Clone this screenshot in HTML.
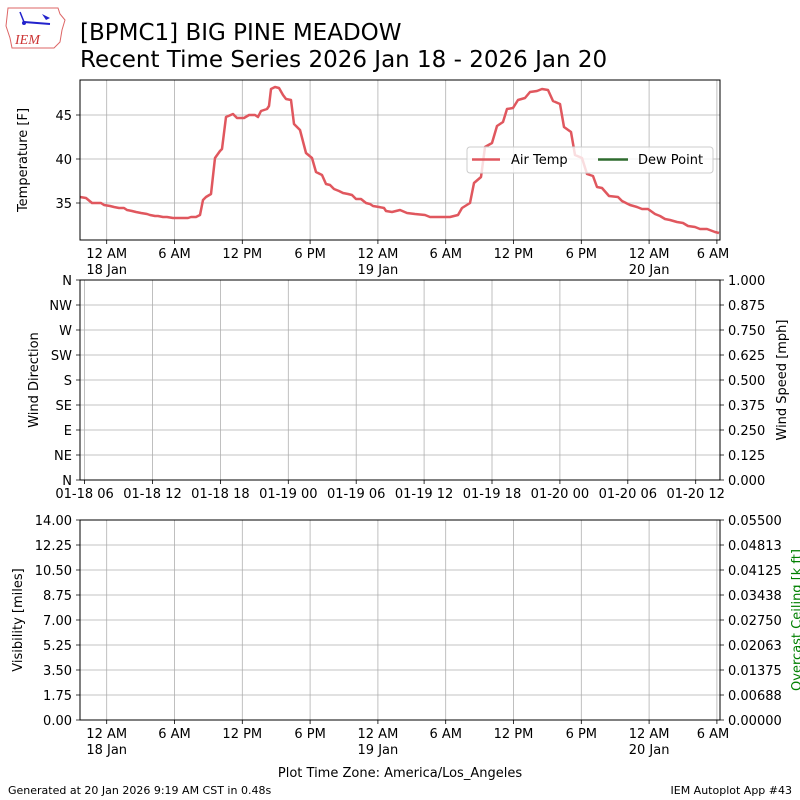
<!DOCTYPE html>
<html><head><meta charset="utf-8"><style>
html,body{margin:0;padding:0;background:#fff}
svg{display:block;font-family:"DejaVu Sans","Liberation Sans",sans-serif}
</style></head><body>
<svg width="800" height="800" viewBox="0 0 800 800" xmlns="http://www.w3.org/2000/svg">
<rect width="800" height="800" fill="#fff"/>
<g>
<path d="M8 8 L58 8 L60 14 L65 20 L62 30 L60 42 L54 48 L12 48 L10 38 L6 26 Z" fill="#fff" stroke="#d66" stroke-width="1"/>
<line x1="24" y1="22" x2="50" y2="24" stroke="#22c" stroke-width="2"/>
<line x1="20" y1="12" x2="24" y2="22" stroke="#22c" stroke-width="1.5"/>
<path d="M42 14 L50 18 L46 20 Z" fill="#22c"/>
<circle cx="24" cy="23" r="2" fill="#22c"/>
<text x="15" y="44" font-family="Liberation Serif,serif" font-style="italic" font-size="14" fill="#c33">IEM</text>
</g>
<text x="80" y="40" font-size="23" fill="#000">[BPMC1] BIG PINE MEADOW</text>
<text x="80" y="67" font-size="23" fill="#000">Recent Time Series 2026 Jan 18 - 2026 Jan 20</text>

<g stroke="#b0b0b0" stroke-width="0.8" fill="none">
<path d="M106.7 80V240M174.5 80V240M242.3 80V240M310.1 80V240M377.9 80V240M445.7 80V240M513.5 80V240M581.3 80V240M649.1 80V240M716.9 80V240"/>
<path d="M80 115H720M80 159H720M80 203H720"/>
<path d="M84.6 280V480M152.5 280V480M220.4 280V480M288.3 280V480M356.2 280V480M424.1 280V480M492 280V480M559.9 280V480M627.8 280V480M695.7 280V480"/>
<path d="M80 305H720M80 330H720M80 355H720M80 380H720M80 405H720M80 430H720M80 455H720"/>
<path d="M106.7 520V720M174.5 520V720M242.3 520V720M310.1 520V720M377.9 520V720M445.7 520V720M513.5 520V720M581.3 520V720M649.1 520V720M716.9 520V720"/>
<path d="M80 545H720M80 570H720M80 595H720M80 620H720M80 645H720M80 670H720M80 695H720"/>
</g>

<polyline fill="none" stroke="#e0575e" stroke-width="2.5" stroke-linejoin="round" points="80,197 86,198 92,203 101,203 104,205 110,206 114,207 119,208 124,208 127,210 132,211 136,212 141,213 147,214 150,215 155,216 158,216 163,217 167,217 173,218 188,218 191,217 196,217 200,215 203,200 206,197 211,194 215,158 220,151 222,149 226,117 233,114 237,118 244,118 249,115 255,115 258,117 261,111 267,109 269,106 271,89 275,87 279,88 283,95 286,99 291,100 294,124 300,130 306,153 312,158 316,172 322,175 326,184 330,185 334,189 339,191 343,193 348,194 352,195 356,199 361,199 366,203 370,204 373,206 379,207 384,208 386,211 392,212 400,210 407,213 415,214 425,215 430,217 450,217 458,215 462,208 470,203 474,183 481,177 485,147 492,143 497,126 503,122 507,109 513,108 518,100 525,98 530,92 537,91 542,89 548,90 553,101 560,104 564,127 571,132 575,155 582,158 587,174 593,176 597,187 602,188 609,196 618,197 622,201 630,205 637,207 642,209 648,209 655,214 660,216 665,219 670,220 677,222 683,223 688,226 695,227 700,229 707,229 715,232 719,233"/>

<rect x="467" y="147" width="246" height="26" rx="3" fill="#fff" fill-opacity="0.8" stroke="#ccc"/>
<line x1="472" y1="159.5" x2="500" y2="159.5" stroke="#e0575e" stroke-width="2.5"/>
<text x="511" y="164" font-size="13">Air Temp</text>
<line x1="598" y1="159.5" x2="628" y2="159.5" stroke="#2f6b2f" stroke-width="2.5"/>
<text x="638" y="164" font-size="13">Dew Point</text>

<g fill="none" stroke="#000" stroke-width="1">
<rect x="80" y="80" width="640" height="160"/>
<rect x="80" y="280" width="640" height="200"/>
<rect x="80" y="520" width="640" height="200"/>
</g>

<g stroke="#000" stroke-width="0.8">
<path d="M106.7 240v4M174.5 240v4M242.3 240v4M310.1 240v4M377.9 240v4M445.7 240v4M513.5 240v4M581.3 240v4M649.1 240v4M716.9 240v4"/>
<path d="M80 115h-4M80 159h-4M80 203h-4"/>
<path d="M84.6 480v4M152.5 480v4M220.4 480v4M288.3 480v4M356.2 480v4M424.1 480v4M492 480v4M559.9 480v4M627.8 480v4M695.7 480v4"/>
<path d="M80 280h-4M80 305h-4M80 330h-4M80 355h-4M80 380h-4M80 405h-4M80 430h-4M80 455h-4M80 480h-4"/>
<path d="M720 280h4M720 305h4M720 330h4M720 355h4M720 380h4M720 405h4M720 430h4M720 455h4M720 480h4"/>
<path d="M106.7 720v4M174.5 720v4M242.3 720v4M310.1 720v4M377.9 720v4M445.7 720v4M513.5 720v4M581.3 720v4M649.1 720v4M716.9 720v4"/>
<path d="M80 520h-4M80 545h-4M80 570h-4M80 595h-4M80 620h-4M80 645h-4M80 670h-4M80 695h-4M80 720h-4"/>
<path d="M720 520h4M720 545h4M720 570h4M720 595h4M720 620h4M720 645h4M720 670h4M720 695h4M720 720h4"/>
</g>

<g font-size="13" fill="#000">
<g text-anchor="end">
<text x="72" y="120">45</text><text x="72" y="164">40</text><text x="72" y="208">35</text>
<text x="72" y="285">N</text><text x="72" y="310">NW</text><text x="72" y="335">W</text><text x="72" y="360">SW</text><text x="72" y="385">S</text><text x="72" y="410">SE</text><text x="72" y="435">E</text><text x="72" y="460">NE</text><text x="72" y="485">N</text>
<text x="72" y="525">14.00</text><text x="72" y="550">12.25</text><text x="72" y="575">10.50</text><text x="72" y="600">8.75</text><text x="72" y="625">7.00</text><text x="72" y="650">5.25</text><text x="72" y="675">3.50</text><text x="72" y="700">1.75</text><text x="72" y="725">0.00</text>
</g>
<g text-anchor="start">
<text x="728" y="285">1.000</text><text x="728" y="310">0.875</text><text x="728" y="335">0.750</text><text x="728" y="360">0.625</text><text x="728" y="385">0.500</text><text x="728" y="410">0.375</text><text x="728" y="435">0.250</text><text x="728" y="460">0.125</text><text x="728" y="485">0.000</text>
<text x="728" y="525">0.05500</text><text x="728" y="550">0.04813</text><text x="728" y="575">0.04125</text><text x="728" y="600">0.03438</text><text x="728" y="625">0.02750</text><text x="728" y="650">0.02063</text><text x="728" y="675">0.01375</text><text x="728" y="700">0.00688</text><text x="728" y="725">0.00000</text>
</g>
<g text-anchor="middle">
<text x="106.7" y="258">12 AM</text><text x="106.7" y="274">18 Jan</text>
<text x="174.5" y="258">6 AM</text><text x="242.3" y="258">12 PM</text><text x="310.1" y="258">6 PM</text>
<text x="377.9" y="258">12 AM</text><text x="377.9" y="274">19 Jan</text>
<text x="445.7" y="258">6 AM</text><text x="513.5" y="258">12 PM</text><text x="581.3" y="258">6 PM</text>
<text x="649.1" y="258">12 AM</text><text x="649.1" y="274">20 Jan</text>
<text x="713" y="258">6 AM</text>

<text x="106.7" y="738">12 AM</text><text x="106.7" y="754">18 Jan</text>
<text x="174.5" y="738">6 AM</text><text x="242.3" y="738">12 PM</text><text x="310.1" y="738">6 PM</text>
<text x="377.9" y="738">12 AM</text><text x="377.9" y="754">19 Jan</text>
<text x="445.7" y="738">6 AM</text><text x="513.5" y="738">12 PM</text><text x="581.3" y="738">6 PM</text>
<text x="649.1" y="738">12 AM</text><text x="649.1" y="754">20 Jan</text>
<text x="713" y="738">6 AM</text>

<text x="84.6" y="498">01-18 06</text><text x="152.5" y="498">01-18 12</text><text x="220.4" y="498">01-18 18</text><text x="288.3" y="498">01-19 00</text><text x="356.2" y="498">01-19 06</text><text x="424.1" y="498">01-19 12</text><text x="492" y="498">01-19 18</text><text x="559.9" y="498">01-20 00</text><text x="627.8" y="498">01-20 06</text><text x="695.7" y="498">01-20 12</text>

<text x="400" y="777">Plot Time Zone: America/Los_Angeles</text>
<text transform="translate(27,160) rotate(-90)">Temperature [F]</text>
<text transform="translate(38,380) rotate(-90)">Wind Direction</text>
<text transform="translate(786,380) rotate(-90)">Wind Speed [mph]</text>
<text transform="translate(22,620) rotate(-90)">Visibility [miles]</text>
<text transform="translate(801,620) rotate(-90)" fill="#008000">Overcast Ceiling [k ft]</text>
</g>
</g>
<text x="8" y="794" font-size="11">Generated at 20 Jan 2026 9:19 AM CST in 0.48s</text>
<text x="792" y="794" font-size="11" text-anchor="end">IEM Autoplot App #43</text>
</svg>
</body></html>
